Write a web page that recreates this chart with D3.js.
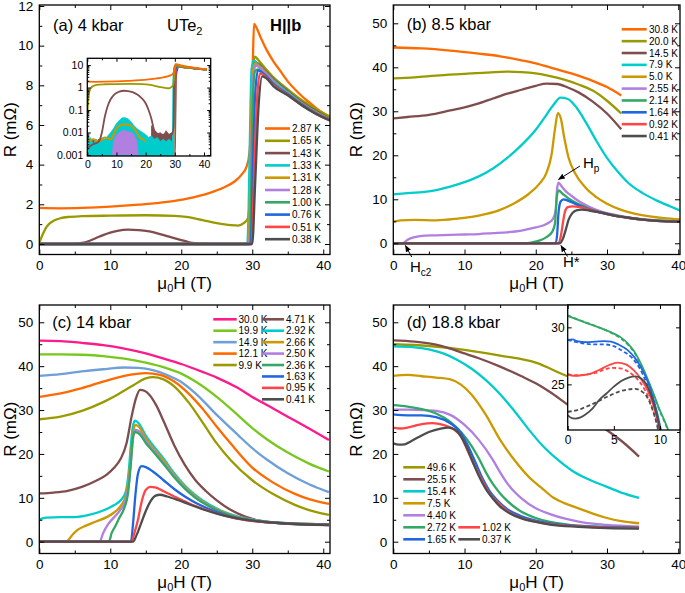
<!DOCTYPE html>
<html><head><meta charset="utf-8">
<script src="https://cdn.jsdelivr.net/npm/d3@7"></script>
<style>
body{margin:0;background:#fff;}
svg text{font-family:"Liberation Sans",Arial,Helvetica,sans-serif;fill:#000;}
</style></head><body>
<svg id="c" width="685" height="593" xmlns="http://www.w3.org/2000/svg"></svg>
<script>
// ---------------- DATA ----------------
// Panel (a) 4 kbar
const tempsA = ["2.87 K","1.65 K","1.43 K","1.33 K","1.31 K","1.28 K","1.00 K","0.76 K","0.51 K","0.38 K"];
const colorsA = ["#ff6a00","#9a9a00","#7f4d4d","#00cccc","#cc9900","#b07fe0","#33a866","#1f66e0","#ff4545","#4d4d4d"];
const a287 = [[0,1.82],[3,1.8],[6,1.82],[10,1.88],[14,1.98],[18,2.12],[21,2.3],[24,2.58],[26,2.85],[27.5,3.15],[28.5,3.5],[29.2,3.9],[29.6,4.6],[29.9,6.5],[30.1,9.5],[30.25,11.1],[30.6,10.9],[31.2,10.4],[32,9.8],[33,9.2],[34,8.7],[35,8.2],[36,7.8],[37,7.45],[38,7.15],[39,6.85],[40,6.6],[41,6.4]];
const a165 = [[0,0.05],[0.5,0.5],[1,0.85],[1.5,1.05],[2,1.17],[3,1.3],[4,1.36],[6,1.4],[10,1.43],[15,1.45],[19,1.42],[21,1.35],[23,1.2],[25,1.05],[27,0.95],[28,0.93],[28.8,1.05],[29.4,1.3],[29.7,2.5],[29.9,6],[30.1,8.8],[30.35,9.45],[30.8,9.3],[31.5,9.0],[33,8.4],[35,7.8],[37,7.25],[39,6.8],[41,6.4]];
const a143 = [[0,0.002],[2,0.003],[4,0.004],[5,0.01],[6,0.05],[7,0.15],[8,0.3],[9,0.45],[10,0.57],[11,0.66],[12.5,0.72],[14,0.7],[15.5,0.63],[17,0.5],[18.5,0.35],[20,0.2],[21,0.1],[22,0.04],[23,0.012],[25,0.008],[29,0.008],[29.6,0.02],[29.8,3],[30.0,7],[30.3,9.2],[30.8,9.1],[31.5,8.85],[33,8.3],[35,7.7],[37,7.15],[39,6.7],[41,6.3]];
const a133 = [[0,0],[29.3,0],[29.5,2],[29.7,6],[29.9,8.8],[30.2,9.25],[30.8,9.05],[31.5,8.8],[33,8.25],[35,7.65],[37,7.1],[39,6.65],[41,6.28]];
const a131 = [[0,0],[29.5,0],[29.7,3],[29.9,7],[30.1,8.7],[30.4,9.1],[31,8.95],[32,8.6],[33,8.2],[35,7.6],[37,7.08],[39,6.63],[41,6.27]];
const a128 = [[0,0],[29.6,0],[29.8,3],[30.0,7],[30.2,8.6],[30.5,9.0],[31,8.9],[32,8.55],[33,8.18],[35,7.6],[37,7.07],[39,6.62],[41,6.26]];
const a100 = [[0,0],[29.7,0],[29.9,4],[30.1,7.5],[30.4,8.7],[30.8,8.8],[31.5,8.6],[33,8.1],[35,7.57],[37,7.05],[39,6.6],[41,6.25]];
const a076 = [[0,0],[29.8,0],[30.1,4],[30.4,7.5],[30.8,8.75],[31.2,8.7],[32,8.45],[33,8.05],[35,7.55],[37,7.03],[39,6.58],[41,6.24]];
const a051 = [[0,0],[29.9,0],[30.3,4],[30.7,7.5],[31.1,8.6],[31.5,8.55],[32.2,8.3],[33,8.0],[35,7.52],[37,7.0],[39,6.56],[41,6.23]];
const a038 = [[0,0],[30.0,0],[30.4,3],[30.9,7],[31.4,8.45],[32,8.35],[33,7.95],[35,7.5],[37,6.98],[39,6.55],[41,6.22]];
// inset (a): low-level noise envelopes (log scale)
const insetA_cyan = [[0,0.012],[0.5,0.004],[1,0.006],[2,0.003],[3,0.005],[4,0.004],[5,0.006],[6,0.005],[7,0.007],[8,0.01],[9,0.015],[10,0.025],[11,0.035],[12,0.045],[13,0.045],[14,0.04],[15,0.03],[16,0.02],[17,0.015],[18,0.012],[19,0.01],[20,0.008],[21,0.006],[22,0.007],[23,0.005],[24,0.006],[25,0.004],[26,0.005],[27,0.004],[28,0.005],[29,0.004],[29.6,0.004]];
const insetA_gold = [[0,0.004],[2,0.005],[4,0.004],[6,0.006],[8,0.005],[9,0.008],[10,0.015],[11,0.02],[12,0.022],[13,0.023],[14,0.022],[15,0.02],[16,0.015],[17,0.01],[18,0.006],[19,0.005],[20,0.004]];
const insetA_purple = [[8.5,0.0009],[9,0.004],[10,0.008],[11,0.01],[12,0.012],[13,0.012],[14,0.011],[15,0.01],[16,0.008],[17,0.004],[17.5,0.0009]];
const insetA_brownLo = [[0,0.006],[1,0.003],[2,0.005],[3,0.004],[4,0.005]];
const insetA_brownHi = [[22,0.02],[23,0.012],[24,0.008],[25,0.01],[26,0.007],[27,0.012],[28,0.008],[29,0.01],[29.6,0.012]];

// Panel (b) 8.5 kbar
const tempsB = ["30.8 K","20.0 K","14.5 K","7.9 K","5.0 K","2.55 K","2.14 K","1.64 K","0.92 K","0.41 K"];
const colorsB = ["#ff6a00","#9a9a00","#7f4d4d","#00cccc","#cc9900","#b07fe0","#33a866","#1f66e0","#ff4545","#4d4d4d"];
const b308 = [[0,44.5],[4,44.3],[8,43.8],[12,43.1],[15,42.5],[18,41.6],[20,40.9],[22,40.0],[25,38.6],[28,36.9],[30,35.5],[32,33.6]];
const b200 = [[0,37.5],[3,37.7],[6,38.1],[10,38.5],[13,38.8],[16,39.0],[18,38.9],[20,38.6],[22,38.0],[24,37.2],[26,36.1],[28,34.7],[30,32.4],[32,29.5]];
const b145 = [[0,28.4],[2,28.7],[5,29.2],[8,30.2],[10,30.9],[12,31.8],[14,32.9],[16,34.0],[18,34.9],[20,35.8],[21.5,36.3],[23,36.2],[24.5,35.4],[26,34.3],[28,32.2],[30,29.5],[32,25.9]];
const b79 = [[0,11.1],[2,11.4],[5,11.8],[8,12.9],[10,13.9],[12,15.2],[14,17.0],[16,19.4],[18,22.3],[20,25.8],[21.5,29.2],[22.5,31.5],[23.5,33.1],[24.5,32.8],[25.5,31.3],[27,27.6],[28.5,23.3],[30,19.4],[31.5,16.3],[33,13.7],[35,11.4],[37,9.7],[39,8.3],[40.3,7.4]];
const b50 = [[0,4.9],[1,5.2],[3,5.3],[6,5.2],[9,5.6],[12,6.3],[15,7.6],[17,9.1],[19,11.2],[20.5,13.5],[21.5,16],[22.2,20],[22.7,26],[23.1,29.6],[23.5,28.5],[24,24],[24.6,19.5],[25.5,16],[27,12.6],[28.5,10.5],[30,9.0],[32,7.6],[34,6.7],[36,6.1],[38,5.7],[40.3,5.4]];
const b255 = [[0,0],[1.3,0],[2,0.8],[3,1.4],[4,1.7],[6,1.8],[8,1.9],[10,2.0],[12,2.1],[14,2.3],[16,2.5],[18,2.9],[20,3.6],[21.5,4.4],[22.4,5.5],[22.8,7.5],[23.0,12.5],[23.2,13.8],[23.6,13.0],[24.3,11.7],[25,10.8],[26,9.6],[27.5,8.3],[29,7.3],[31,6.5],[33,5.9],[35,5.5],[37,5.2],[40.3,5.0]];
const b214 = [[0,0],[18.5,0],[19.5,0.2],[20.5,0.6],[21.5,1.4],[22.3,2.6],[22.7,4.5],[22.95,10.5],[23.2,12],[23.8,11.2],[24.5,10.3],[25.5,9.3],[27,8.2],[29,7.1],[31,6.4],[33,5.8],[35,5.4],[37,5.2],[40.3,4.95]];
const b164 = [[0,0],[22.8,0],[23.0,2],[23.2,7],[23.5,9.5],[23.9,10.0],[24.5,9.7],[25.5,9.0],[27,8.0],[29,7.0],[31,6.3],[33,5.8],[35,5.4],[37,5.1],[40.3,4.9]];
const b092 = [[0,0],[23.2,0],[23.5,1.5],[23.8,4.5],[24.1,7.2],[24.5,8.2],[25.2,8.4],[26,8.3],[27,7.9],[29,7.0],[31,6.3],[33,5.8],[35,5.4],[37,5.1],[40.3,4.9]];
const b041 = [[0,0],[23.4,0],[23.8,1],[24.2,3],[24.6,5.3],[25.1,6.8],[25.7,7.5],[26.5,7.65],[27.5,7.45],[29,7.0],[31,6.3],[33,5.8],[35,5.4],[37,5.1],[40.3,4.85]];

// Panel (c) 14 kbar
const tempsC1 = ["30.0 K","19.9 K","14.9 K","12.1 K","9.9 K"];
const tempsC2 = ["4.71 K","2.92 K","2.66 K","2.50 K","2.36 K","1.63 K","0.95 K","0.41 K"];
const colorsC = ["#ff1a8c","#77c81e","#6f9fd8","#ff6a00","#9a9a00","#7f4d4d","#00cccc","#cc9900","#b07fe0","#33a866","#1f66e0","#ff4545","#4d4d4d"];
const c300 = [[0,45.8],[3,45.7],[6,45.3],[9,44.8],[12,44.0],[15,42.9],[18,41.5],[20,40.5],[23,38.7],[25,37.4],[28,35.0],[30,33.0],[33,30.3],[35,28.5],[38,25.8],[40.8,23.2]];
const c199 = [[0,42.7],[3,42.7],[6,42.6],[9,42.3],[12,41.7],[15,40.8],[18,39.5],[20,38.3],[22,36.5],[25,33.0],[28,28.8],[30,25.9],[32,23.4],[35,20.3],[38,17.8],[40.8,16.0]];
const c149 = [[0,37.8],[3,38.2],[6,38.8],[9,39.3],[12,39.7],[14,39.6],[16,39.1],[18,38.0],[20,36.4],[22,33.8],[25,28.9],[28,24.3],[30,21.3],[32,18.8],[35,15.6],[38,13.1],[40.8,11.3]];
const c121 = [[0,33.0],[3,33.8],[6,35.0],[9,36.5],[12,37.8],[15,38.4],[17,38.0],[19,36.5],[21,33.8],[23,30.3],[25,26.2],[27,22.3],[30,16.9],[33,13.4],[36,10.9],[38,9.7],[40.8,8.6]];
const c99 = [[0,27.9],[3,28.5],[6,29.8],[9,31.8],[11,33.5],[13,35.4],[15,37.2],[16,37.5],[17.5,37.0],[19,35.4],[21,31.8],[23,27.2],[25,22.4],[27,18.5],[30,14.0],[33,10.8],[36,8.4],[38,7.2],[40.8,6.1]];
const c471 = [[0,11.0],[2,11.2],[4,11.6],[6,12.5],[8,13.9],[9.5,15.3],[10.5,16.8],[11.5,19.0],[12.3,22.5],[13,28.5],[13.6,32.6],[14.2,34.6],[14.8,34.4],[15.5,33.5],[16.5,31.0],[17.5,27.5],[19,22.0],[20.5,17.5],[22,14.0],[23.5,11.5],[25,9.4],[27,7.2],[29,5.7],[31,4.8],[34,4.2],[37,4.0],[40.8,3.9]];
const c292 = [[0,5.1],[1,5.5],[3,5.6],[5,5.6],[7,6.1],[9,7.1],[10.5,8.3],[11.5,9.5],[12.2,11.5],[12.6,16],[12.9,22],[13.2,26.5],[13.5,27.6],[14,27.0],[15,24.2],[16,22.0],[17.5,19.0],[19,15.6],[20.5,12.8],[22,10.6],[24,8.4],[26,6.8],[28,5.7],[31,4.8],[35,4.2],[40.8,3.9]];
const c266 = [[0,0],[3.8,0],[4.3,0.8],[4.8,1.8],[5.5,2.8],[6.5,3.6],[8,4.6],[9.5,5.6],[10.5,6.6],[11.5,8.2],[12.2,10.5],[12.7,16],[13.1,23],[13.5,26.6],[14,26.2],[15,23.6],[16,21.4],[17.5,18.5],[19,15.2],[20.5,12.5],[22,10.3],[24,8.2],[26,6.7],[28,5.6],[31,4.75],[35,4.2],[40.8,3.9]];
const c250 = [[0,0],[8.5,0],[9,2],[9.7,4],[10.5,5.5],[11.3,7],[12,8.8],[12.6,13],[13.0,20],[13.3,24.5],[13.6,25.5],[14.2,25.0],[15,23.0],[16,21.0],[17.5,18.0],[19,14.9],[20.5,12.3],[22,10.1],[24,8.1],[26,6.6],[28,5.6],[31,4.7],[35,4.2],[40.8,3.9]];
const c236 = [[0,0],[9.8,0],[10.2,2],[10.7,3.5],[11.3,5.5],[12,7.8],[12.5,11],[12.9,18],[13.2,24],[13.5,25.0],[14.2,24.4],[15,22.5],[16,20.6],[17.5,17.7],[19,14.7],[20.5,12.1],[22,10.0],[24,8.0],[26,6.5],[28,5.5],[31,4.7],[35,4.2],[40.8,3.9]];
const c163 = [[0,0],[12.9,0],[13.2,4],[13.5,10],[13.9,15.5],[14.4,17.2],[15,17.0],[16,16.0],[17.5,14.0],[19,12.0],[20.5,10.3],[22,8.9],[24,7.4],[26,6.2],[28,5.3],[31,4.6],[35,4.1],[40.8,3.8]];
const c095 = [[0,0],[13.0,0],[13.4,2],[13.9,5],[14.4,9],[15,11.8],[15.6,12.5],[16.3,12.4],[17.5,11.5],[19,10.3],[20.5,9.2],[22,8.1],[24,7.0],[26,6.0],[28,5.2],[31,4.55],[35,4.1],[40.8,3.8]];
const c041 = [[0,0],[13.2,0],[13.7,1.5],[14.3,4],[15,7],[15.7,9.3],[16.4,10.5],[17,10.7],[18,10.3],[19.5,9.5],[21,8.6],[23,7.4],[25,6.4],[27,5.6],[30,4.8],[34,4.2],[40.8,3.8]];

// Panel (d) 18.8 kbar
const tempsD1 = ["49.6 K","25.5 K","15.4 K","7.5 K","4.40 K","2.72 K","1.65 K"];
const tempsD2 = ["1.02 K","0.37 K"];
const colorsD = ["#9a9a00","#7f4d4d","#00cccc","#cc9900","#b07fe0","#33a866","#1f66e0","#ff4545","#4d4d4d"];
const d496 = [[0,45.0],[5,44.6],[10,43.7],[15,42.4],[20,40.8],[24.5,37.7],[30,35.5],[34.5,33.5]];
const d255 = [[0,45.9],[3,45.6],[6,44.9],[8,44.0],[10,42.9],[12,41.8],[15,39.9],[18,37.7],[20,36.1],[22,34.1],[24.5,31.2],[27,28.5],[30,25.4],[32,23.0],[34.5,19.4]];
const d154 = [[0,44.5],[3,44.3],[5,43.8],[7,42.9],[9,41.4],[11,39.4],[13,36.8],[15,33.6],[17,29.8],[19,25.6],[21,21.8],[23,18.8],[25,16.3],[27,14.5],[30,12.5],[32,11.2],[34.5,10.0]];
const d75 = [[0,37.8],[2,38.0],[4,37.7],[6,37.4],[8,37.0],[9.5,35.8],[11,33.5],[13,28.9],[15,23.2],[17,18.6],[19,14.8],[21,12.0],[22.5,10.0],[24,8.8],[26,7.6],[28,6.4],[30,5.4],[32,4.7],[34.5,4.2]];
const d440 = [[0,30.1],[2,30.1],[4,30.0],[6,29.8],[8,28.9],[10,26.6],[12,23.2],[14,18.6],[15,15.8],[16,13.3],[17,11.4],[18,9.9],[20,7.6],[22,6.3],[24,5.3],[26,4.6],[28,4.1],[30,3.8],[34.5,3.4]];
const d272 = [[0,31.1],[2,30.8],[4,30.2],[6,29.2],[8,27.3],[9.5,25.0],[11,21.8],[12,19.0],[13,15.8],[14,13.1],[15,11.0],[16,9.3],[18,6.8],[20,5.4],[22,4.5],[25,3.8],[28,3.5],[34.5,3.2]];
const d165 = [[0,29.0],[2,28.8],[4,28.8],[6,28.4],[8,27.0],[9.5,24.8],[10.5,21.8],[11.5,18.2],[12.5,14.5],[13.5,11.6],[14.5,9.6],[16,7.4],[18,5.8],[20,4.8],[22,4.2],[26,3.6],[30,3.3],[34.5,3.15]];
const d102 = [[0,26.0],[1,25.8],[2,26.0],[3,26.4],[4,26.8],[5.5,27.0],[7,26.6],[8.5,25.6],[9.5,24.0],[10.5,20.5],[11.5,17.0],[12.5,13.8],[13.5,11.0],[14.5,9.2],[16,7.0],[18,5.4],[20,4.6],[22,4.0],[26,3.5],[30,3.2],[34.5,3.1]];
const d037 = [[0,22.4],[0.8,22.1],[1.6,22.2],[2.5,22.9],[3.5,23.8],[5,25.0],[6.5,25.7],[7.7,26.0],[8.7,25.5],[9.5,24.0],[10.3,21.5],[11,18.8],[12,15.0],[13,12.0],[14,9.8],[15,8.0],[16,6.8],[18,5.3],[20,4.5],[22,3.9],[26,3.4],[30,3.1],[34.5,3.0]];
// inset (d): solid = measured, dashed = second set
const insetColorsD = ["#33a866","#1f66e0","#ff4545","#4d4d4d"];
const di272s = [[0,31.0],[1,30.7],[2,30.4],[3,30.1],[4,29.8],[5,29.45],[5.8,29.1],[6.5,28.6],[7.2,27.9],[8,26.7],[8.7,25.4],[9.3,24.2],[9.9,22.9],[10.5,21.8],[10.9,21.0]];
const di272d = [[0,31.05],[1,30.72],[2,30.42],[3,30.12],[4,29.8],[5,29.4],[5.8,29.0],[6.5,28.5],[7.2,27.8],[8,26.6],[8.7,25.3],[9.3,24.1],[9.9,22.8],[10.5,21.7],[10.85,21.0]];
const di165s = [[0,28.9],[0.5,28.95],[1,28.8],[2,28.7],[3,28.75],[4,28.8],[4.7,28.75],[5.5,28.5],[6.5,28.0],[7.3,27.3],[8,26.4],[8.7,25.2],[9.2,24.0],[9.6,22.8],[9.9,21.8],[10.1,21.0]];
const di165d = [[0,28.9],[1,28.7],[2,28.55],[3,28.5],[4,28.5],[5,28.35],[6,27.9],[7,27.3],[7.8,26.4],[8.5,25.2],[9,24.1],[9.5,22.8],[9.8,21.8],[10.0,21.0]];
const di102s = [[0,25.85],[0.7,25.75],[1.5,25.8],[2.5,25.95],[3.5,26.3],[4.5,26.7],[5.4,26.9],[6.3,26.75],[7.2,26.2],[8,25.4],[8.7,24.4],[9.2,23.4],[9.6,22.3],[9.9,21.4],[10.05,21.0]];
const di102d = [[0,25.9],[1,25.8],[2,25.85],[3,26.0],[4,26.3],[4.8,26.45],[5.7,26.4],[6.6,26.1],[7.5,25.5],[8.3,24.6],[8.9,23.6],[9.3,22.6],[9.7,21.6],[9.9,21.0]];
const di037s = [[0,22.3],[0.3,22.1],[0.8,22.0],[1.4,22.1],[2,22.4],[2.7,22.9],[3.5,23.7],[4.2,24.2],[5,24.8],[5.8,25.3],[6.6,25.6],[7.3,25.7],[8,25.5],[8.6,24.9],[9.1,23.9],[9.5,22.8],[9.8,21.8],[10.0,21.0]];
const di037d = [[0,22.6],[0.8,22.7],[1.6,22.9],[2.5,23.2],[3.5,23.6],[4.5,24.0],[5.5,24.35],[6.5,24.55],[7.3,24.6],[8,24.4],[8.6,23.9],[9.1,23.0],[9.5,22.0],[9.8,21.0]];

// tick values
const xMajor = [0,10,20,30,40], xMinor = [5,15,25,35];
const yMajorA = [0,2,4,6,8,10,12], yMinorA = [1,3,5,7,9,11];
const yMajorR = [0,10,20,30,40,50], yMinorR = [5,15,25,35,45];
const insetAxMajor = [0,10,20,30,40], insetAxMinor = [5,15,25,35];
const insetAyMajor = [10,1,0.1,0.01,0.001];
const insetAyLabels = ["10","1","0.1","0.01","0.001"];
const insetDxMajor = [0,5,10], insetDyMajor = [25,30];

// ---------------- DRAWING ----------------
const svg = d3.select("#c");
const defs = svg.append("defs");
defs.append("marker").attr("id","arr").attr("viewBox","0 0 10 10").attr("refX",9).attr("refY",5)
  .attr("markerWidth",7).attr("markerHeight",7).attr("orient","auto-start-reverse")
  .append("path").attr("d","M0,1 L10,5 L0,9 Z").attr("fill","#000");

let clipN = 0;
function clip(L,T,R,B){
  const id = "cl"+(clipN++);
  defs.append("clipPath").attr("id",id).append("rect").attr("x",L).attr("y",T).attr("width",R-L).attr("height",B-T);
  return "url(#"+id+")";
}

function frame(g, x, y, o){
  const [L,R] = x.range(), [B,T] = y.range();
  const mk = (fn, sc, vals, len, tr, lab, pad, fmt) => {
    if(!vals || !vals.length) return;
    const a = fn(sc).tickValues(vals).tickSizeInner(-len).tickSizeOuter(0).tickPadding(pad||0);
    a.tickFormat(lab ? (fmt || d3.format("d")) : () => "");
    const gg = g.append("g").attr("transform", tr).call(a);
    gg.select(".domain").remove();
    gg.attr("font-family", null).attr("font-size", null);
    gg.selectAll("line").attr("stroke","#000").attr("stroke-width",1);
    gg.selectAll("text").attr("font-size", o.fs).attr("fill","#000");
  };
  mk(d3.axisBottom, x, o.xMaj, o.tl, `translate(0,${B})`, o.xLab, o.padX, o.xFmt);
  mk(d3.axisBottom, x, o.xMin, o.tlm, `translate(0,${B})`, false);
  mk(d3.axisTop, x, o.xMaj, o.tl, `translate(0,${T})`, false);
  mk(d3.axisTop, x, o.xMin, o.tlm, `translate(0,${T})`, false);
  mk(d3.axisLeft, y, o.yMaj, o.tl, `translate(${L},0)`, o.yLab, o.padY, o.yFmt);
  mk(d3.axisLeft, y, o.yMin, o.tlm, `translate(${L},0)`, false);
  mk(d3.axisRight, y, o.yMaj, o.tl, `translate(${R},0)`, false);
  mk(d3.axisRight, y, o.yMin, o.tlm, `translate(${R},0)`, false);
  g.append("rect").attr("x",L).attr("y",T).attr("width",R-L).attr("height",B-T)
    .attr("fill","none").attr("stroke","#000").attr("stroke-width",1.3);
}

function drawLines(g, x, y, series, colors, w, cp, dash){
  const line = d3.line().x(d=>x(d[0])).y(d=>y(d[1])).curve(d3.curveMonotoneX);
  const cg = g.append("g").attr("clip-path", cp);
  series.forEach((s,i)=>{
    cg.append("path").datum(s).attr("d",line).attr("fill","none")
      .attr("stroke",colors[i]).attr("stroke-width",w).attr("stroke-linejoin","round")
      .attr("stroke-dasharray", dash || null);
  });
}

function legend(g, labels, colors, x0, x1, tx, y0, dy, fs){
  labels.forEach((t,i)=>{
    const yy = y0 + i*dy;
    g.append("line").attr("x1",x0).attr("x2",x1).attr("y1",yy).attr("y2",yy)
      .attr("stroke",colors[i]).attr("stroke-width",2.6);
    g.append("text").attr("x",tx).attr("y",yy).attr("dy","0.36em").attr("font-size",fs).text(t);
  });
}

function axisTitles(g, L, R, T, B, xBase, yBase){
  const t = g.append("text").attr("x",(L+R)/2).attr("y",xBase).attr("text-anchor","middle").attr("font-size",17);
  t.append("tspan").text("μ");
  t.append("tspan").attr("font-size",11).attr("dy",3.5).text("0");
  t.append("tspan").attr("dy",-3.5).text("H (T)");
  g.append("text").attr("transform",`translate(${yBase},${(T+B)/2}) rotate(-90)`)
    .attr("text-anchor","middle").attr("font-size",17).text("R (mΩ)");
}

const mainOpts = {fs:13.5, tl:5, tlm:3, padX:6, padY:6, xLab:true, yLab:true, xMaj:xMajor, xMin:xMinor};
const LEG = 10;

// ---- Panel (a)
{
  const L=39.3, R=330, T=5, B=254.5;
  const x = d3.scaleLinear().domain([0,40.95]).range([L,R]);
  const y = d3.scaleLinear().domain([-0.53,12.05]).range([B,T]);
  const g = svg.append("g");
  drawLines(g, x, y, [a287,a165,a143,a133,a131,a128,a100,a076,a051,a038], colorsA, 2.3, clip(L,T,R,B));
  frame(g, x, y, Object.assign({}, mainOpts, {yMaj:yMajorA, yMin:yMinorA}));
  axisTitles(g, L, R, T, B, 288.5, 16);
  legend(g, tempsA, colorsA, 265, 290, 292, 128.5, 12.3, LEG);
  g.append("text").attr("x",53).attr("y",31).attr("font-size",16.5).text("(a) 4 kbar");
  const ut = g.append("text").attr("x",167).attr("y",31).attr("font-size",16.5);
  ut.append("tspan").text("UTe");
  ut.append("tspan").attr("font-size",11).attr("dy",4).text("2");
  g.append("text").attr("x",270).attr("y",31).attr("font-size",16.5).attr("font-weight","bold").text("H||b");

  // inset (a)
  const iL=87.3, iR=210.7, iT=58.3, iB=156;
  const ix = d3.scaleLinear().domain([0,42.3]).range([iL,iR]);
  const iy = d3.scaleLog().domain([0.0009,20]).range([iB,iT]);
  g.append("rect").attr("x",iL).attr("y",iT).attr("width",iR-iL).attr("height",iB-iT).attr("fill","#fff");
  const icp = clip(iL,iT,iR,iB);
  const ig = g.append("g").attr("clip-path", icp);
  const area = (col, data) => ig.append("path").datum(data)
    .attr("d", d3.area().x(d=>ix(d[0])).y0(iy(0.0009)).y1(d=>iy(Math.max(d[1],0.0009))).curve(d3.curveLinear))
    .attr("fill", col).attr("stroke", col).attr("stroke-width",0.8);
  area(colorsA[2], insetA_brownLo);
  area(colorsA[2], insetA_brownHi);
  area(colorsA[3], insetA_cyan);
  ig.append("path").datum(insetA_gold).attr("d", d3.line().x(d=>ix(d[0])).y(d=>iy(d[1])).curve(d3.curveMonotoneX))
    .attr("fill","none").attr("stroke",colorsA[4]).attr("stroke-width",2);
  area(colorsA[5], insetA_purple);
  const lineL = d3.line().x(d=>ix(d[0])).y(d=>iy(Math.max(d[1],0.0009))).curve(d3.curveMonotoneX);
  const allA = [a287,a165,a143,a133,a131,a128,a100,a076,a051,a038];
  for(let i=allA.length-1;i>=0;i--){
    ig.append("path").datum(allA[i]).attr("d",lineL).attr("fill","none").attr("stroke",colorsA[i]).attr("stroke-width",1.8);
  }
  const minorLog = [];
  [0.001,0.01,0.1,1,10].forEach(dd=>{ for(let k=2;k<=9;k++){ const v=dd*k; if(v<20) minorLog.push(v);} });
  frame(g, ix, iy, {fs:10.5, tl:3.5, tlm:2, padX:5, padY:4, xLab:true, yLab:true,
    xMaj:insetAxMajor, xMin:insetAxMinor, yMaj:insetAyMajor, yMin:minorLog,
    yFmt:(d)=>insetAyLabels[insetAyMajor.indexOf(d)]});
}

// ---- Panel (b)
{
  const L=393.3, R=680, T=5, B=254.5;
  const x = d3.scaleLinear().domain([0,40.25]).range([L,R]);
  const y = d3.scaleLinear().domain([-2.55,54.16]).range([B,T]);
  const g = svg.append("g");
  drawLines(g, x, y, [b308,b200,b145,b79,b50,b255,b214,b164,b092,b041], colorsB, 2.3, clip(L,T,R,B));
  frame(g, x, y, Object.assign({}, mainOpts, {yMaj:yMajorR, yMin:yMinorR}));
  axisTitles(g, L, R, T, B, 288.5, 362);
  legend(g, tempsB, colorsB, 621.7, 646.7, 649, 29.3, 11.86, LEG);
  g.append("text").attr("x",406.7).attr("y",30).attr("font-size",16.5).text("(b) 8.5 kbar");
  // annotations
  const hp = g.append("text").attr("x",583).attr("y",168.3).attr("font-size",15);
  hp.append("tspan").text("H"); hp.append("tspan").attr("font-size",10).attr("dy",4).text("p");
  g.append("line").attr("x1",580).attr("y1",166).attr("x2",558.5).attr("y2",179.5).attr("stroke","#000").attr("stroke-width",1).attr("marker-end","url(#arr)");
  const hc = g.append("text").attr("x",410).attr("y",271.5).attr("font-size",15);
  hc.append("tspan").text("H"); hc.append("tspan").attr("font-size",10).attr("dy",4).text("c2");
  g.append("line").attr("x1",411.7).attr("y1",257).attr("x2",405.5).attr("y2",245.5).attr("stroke","#000").attr("stroke-width",1).attr("marker-end","url(#arr)");
  g.append("text").attr("x",563).attr("y",267).attr("font-size",15).text("H*");
  g.append("line").attr("x1",567.5).attr("y1",256.5).attr("x2",561).attr("y2",245.5).attr("stroke","#000").attr("stroke-width",1).attr("marker-end","url(#arr)");
}

// ---- Panel (c)
{
  const L=39.3, R=330, T=305, B=553.5;
  const x = d3.scaleLinear().domain([0,40.95]).range([L,R]);
  const y = d3.scaleLinear().domain([-2.69,53.94]).range([B,T]);
  const g = svg.append("g");
  drawLines(g, x, y, [c300,c199,c149,c121,c99,c471,c292,c266,c250,c236,c163,c095,c041], colorsC, 2.3, clip(L,T,R,B));
  frame(g, x, y, Object.assign({}, mainOpts, {yMaj:yMajorR, yMin:yMinorR}));
  axisTitles(g, L, R, T, B, 587.5, 16);
  legend(g, tempsC1, colorsC.slice(0,5), 213.3, 236.7, 238.5, 319.3, 11.43, LEG);
  legend(g, tempsC2, colorsC.slice(5), 262, 284, 286, 319.3, 11.43, LEG);
  g.append("text").attr("x",52.3).attr("y",328.3).attr("font-size",16.5).text("(c) 14 kbar");
}

// ---- Panel (d)
{
  const L=393.3, R=680, T=305, B=553.5;
  const x = d3.scaleLinear().domain([0,40.25]).range([L,R]);
  const y = d3.scaleLinear().domain([-2.69,53.94]).range([B,T]);
  const g = svg.append("g");
  drawLines(g, x, y, [d496,d255,d154,d75,d440,d272,d165,d102,d037], colorsD, 2.3, clip(L,T,R,B));
  frame(g, x, y, Object.assign({}, mainOpts, {yMaj:yMajorR, yMin:yMinorR}));
  axisTitles(g, L, R, T, B, 587.5, 362);
  legend(g, tempsD1, colorsD.slice(0,7), 403.3, 425, 427, 467.3, 12, LEG);
  legend(g, tempsD2, colorsD.slice(7), 458.3, 480, 482, 527.3, 12, LEG);
  g.append("text").attr("x",406.7).attr("y",328.3).attr("font-size",16.5).text("(d) 18.8 kbar");
  // inset (d)
  const iL=567.7, iR=680, iT=305, iB=430;
  const ix = d3.scaleLinear().domain([0,12.17]).range([iL,iR]);
  const iy = d3.scaleLinear().domain([21.0,31.96]).range([iB,iT]);
  g.append("rect").attr("x",iL).attr("y",iT).attr("width",iR-iL).attr("height",iB-iT).attr("fill","#fff");
  const icp = clip(iL,iT,iR,iB);
  drawLines(g, ix, iy, [di272d,di165d,di102d,di037d], insetColorsD, 1.8, icp, "4,2.5");
  drawLines(g, ix, iy, [di272s,di165s,di102s,di037s], insetColorsD, 1.8, icp);
  frame(g, ix, iy, {fs:12, tl:4, tlm:2, padX:5, padY:3, xLab:true, yLab:true,
    xMaj:insetDxMajor, xMin:[], yMaj:insetDyMajor, yMin:[]});
}
</script>
</body></html>
